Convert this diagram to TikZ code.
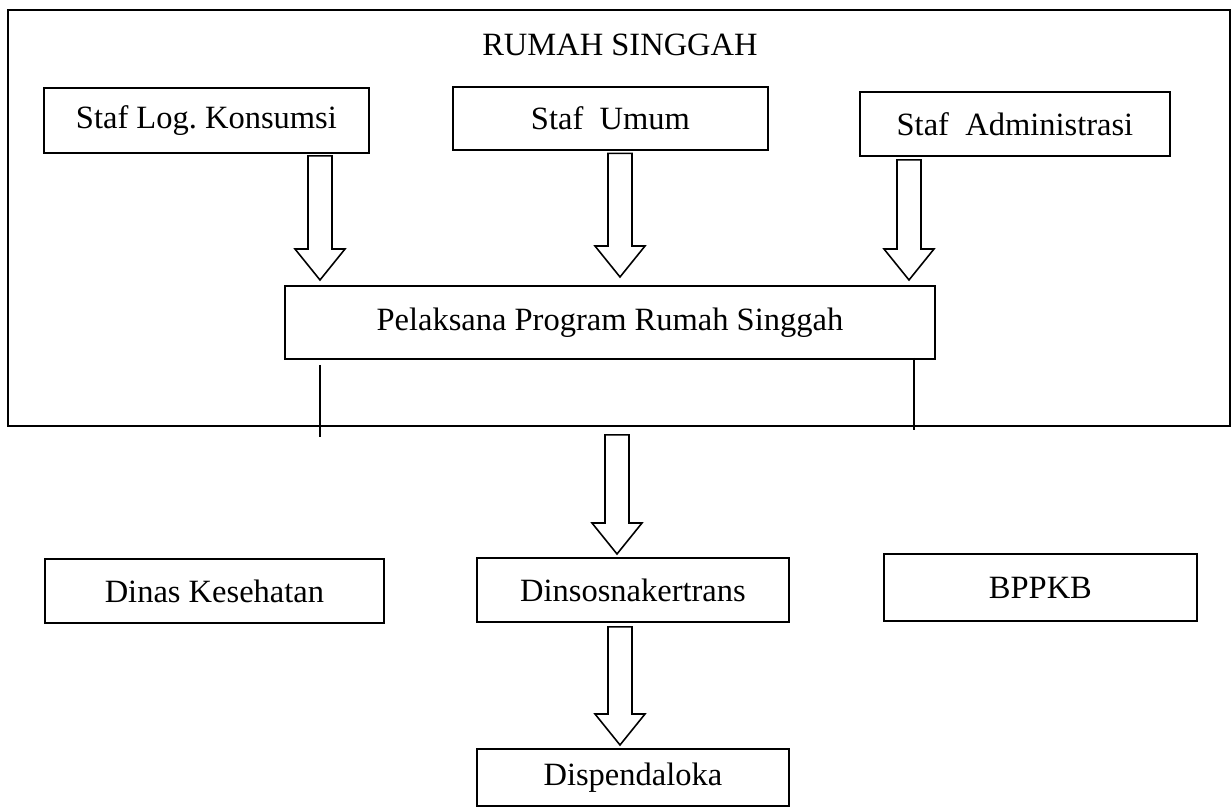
\documentclass[tikz,border=0pt]{standalone}
\usepackage{fontspec}
\setmainfont{Liberation Serif}
\usetikzlibrary{calc}

% hollow down arrow: #1 = top of shaft, #2 = tip
\newcommand{\hollowarrow}[2]{%
  \draw[blockarr] ($(#1)+(-12,0)$) -- ($(#2)+(-12,-31)$) -- ($(#2)+(-25,-31)$)
    -- (#2) -- ($(#2)+(25,-31)$) -- ($(#2)+(12,-31)$) -- ($(#1)+(12,0)$) -- cycle;}

\begin{document}
\begin{tikzpicture}[
  x=0.02cm,
  y=-0.02cm,
  font=\fontsize{18.5}{22}\selectfont,
  box/.style={draw, line width=1.1pt, fill=white, anchor=north west, inner sep=0pt},
  frame/.style={draw, line width=1pt},
  blockarr/.style={draw, line width=0.9pt, fill=white, line join=miter},
  stub/.style={draw, line width=1pt}
]
\useasboundingbox (0,0) rectangle (1232,807);

\draw[frame] (8,10) rectangle (1230,426);
\node (title) at (620,45) {RUMAH SINGGAH};

\node[box, minimum width=6.5cm, minimum height=1.3cm] (staflog) at (43,87)
  {Staf Log.\ Konsumsi};
\node[box, minimum width=6.3cm, minimum height=1.27cm] (stafumum) at (452,86)
  {Staf\ \ Umum};
\node[box, minimum width=6.2cm, minimum height=1.28cm] (stafadm) at (859,91)
  {Staf\ \ Administrasi};
\node[box, minimum width=13cm, minimum height=1.46cm] (pelaksana) at (284,285)
  {Pelaksana Program Rumah Singgah};
\node[box, minimum width=6.78cm, minimum height=1.28cm] (dinkes) at (44,558)
  {Dinas Kesehatan};
\node[box, minimum width=6.24cm, minimum height=1.28cm] (dinsos) at (476,557)
  {Dinsosnakertrans};
\node[box, minimum width=6.26cm, minimum height=1.34cm] (bppkb) at (883,553)
  {BPPKB};
\node[box, minimum width=6.24cm, minimum height=1.14cm] (dispen) at (476,748)
  {Dispendaloka};

% arrow ends
\coordinate (logout) at ($(staflog.south west)+(277,2)$);
\coordinate (login) at ($(pelaksana.north west)+(36,-5)$);
\coordinate (umumout) at ($(stafumum.south west)+(168,2)$);
\coordinate (umumin) at ($(pelaksana.north west)+(336,-8)$);
\coordinate (admout) at ($(stafadm.south west)+(50,3)$);
\coordinate (admin) at ($(pelaksana.north west)+(625,-5)$);
\coordinate (pelout) at ($(pelaksana.south west)+(333,75)$);
\coordinate (dinsosin) at ($(dinsos.north west)+(141,-3)$);
\coordinate (dinsosout) at ($(dinsos.south west)+(144,4)$);
\coordinate (dispenin) at ($(dispen.north west)+(144,-3)$);

\hollowarrow{logout}{login}
\hollowarrow{umumout}{umumin}
\hollowarrow{admout}{admin}
\hollowarrow{pelout}{dinsosin}
\hollowarrow{dinsosout}{dispenin}

% stubs below the program box
\coordinate (stubl) at ($(pelaksana.south west)+(36,5)$);
\coordinate (stubr) at ($(pelaksana.south east)+(-22,-2)$);
\draw[stub] (stubl) -- ++(0,72);
\draw[stub] (stubr) -- ++(0,72);

\end{tikzpicture}
\end{document}
